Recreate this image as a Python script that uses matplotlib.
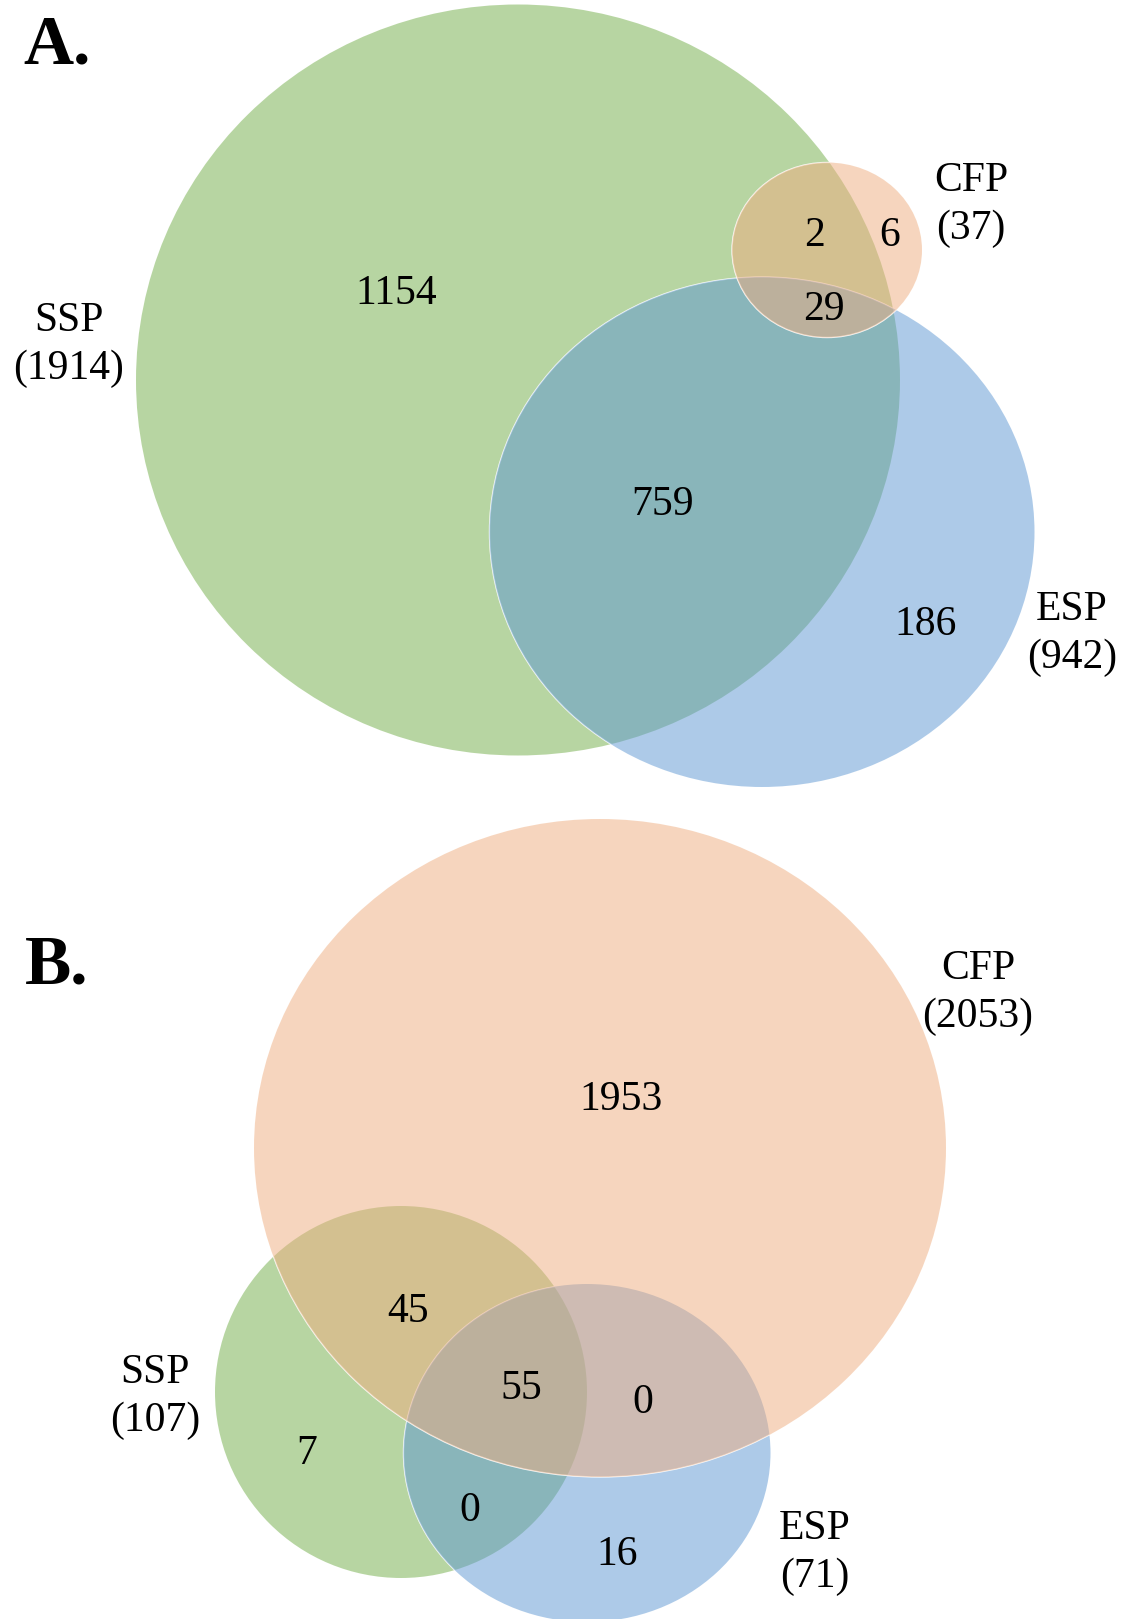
import matplotlib
matplotlib.use("Agg")
import matplotlib.pyplot as plt
from matplotlib.patches import Ellipse

# ---------------- data ----------------
set_names = ["SSP", "ESP", "CFP"]
colors = ["#71ad47", "#5d97d3", "#efad7f"]

# Panel A
a_totals = [1914, 942, 37]
a_region_labels = ["SSP only", "SSP&ESP", "ESP only", "SSP&CFP", "CFP only", "all"]
a_region_counts = [1154, 759, 186, 2, 6, 29]

# Panel B
b_totals = [107, 71, 2053]
b_region_labels = ["CFP only", "SSP&CFP", "all", "ESP&CFP", "SSP only", "SSP&ESP", "ESP only"]
b_region_counts = [1953, 45, 55, 0, 7, 0, 16]

# ---------------- layout (pixel coordinates) ----------------
W, H = 1136, 1619
layout_a = {  # center x, center y, width, height
    "SSP": (518, 380, 764, 751),
    "ESP": (762, 532, 545, 510),
    "CFP": (827, 250, 190, 175),
}
layout_b = {
    "SSP": (401, 1392, 372, 372),
    "ESP": (587, 1453, 367, 338),
    "CFP": (600, 1148, 692, 658),
}
a_region_pos = [(396, 294), (663, 505), (926, 625), (814, 236), (890, 236), (824, 310)]
b_region_pos = [(621, 1100), (408, 1312), (521, 1389), (643, 1403), (307, 1454), (470, 1511), (617, 1555)]
a_label_pos = {"SSP": (69, 345), "ESP": (1072, 634), "CFP": (971, 205)}
b_label_pos = {"SSP": (155, 1397), "ESP": (815, 1553), "CFP": (978, 993)}
edge_on = {"SSP": False, "ESP": True, "CFP": True}

FONT = "Liberation Serif"
FS = 30

fig = plt.figure(figsize=(W / 100, H / 100), dpi=100)
ax = fig.add_axes([0, 0, 1, 1])
ax.set_xlim(0, W)
ax.set_ylim(H, 0)
ax.set_aspect("equal")
ax.axis("off")


def draw_panel(layout, totals, counts, region_pos, label_pos):
    z = 1
    for name, col in zip(set_names, colors):
        cx, cy, w, h = layout[name]
        if edge_on[name]:
            ax.add_patch(Ellipse((cx, cy), w, h, facecolor="none",
                                 edgecolor=(1, 1, 1, 0.9), linewidth=1.0, zorder=z))
        ax.add_patch(Ellipse((cx, cy), w, h, facecolor=col, alpha=0.5,
                             edgecolor="none", zorder=z + 0.5))
        z += 1
    for c, (x, y) in zip(counts, region_pos):
        ax.text(x, y, str(c), ha="center", va="center", fontsize=FS,
                family=FONT, zorder=10)
    for name, t in zip(set_names, totals):
        x, y = label_pos[name]
        ax.text(x, y, f"{name}\n({t})", ha="center", va="center", fontsize=FS,
                family=FONT, linespacing=1.33, zorder=10)


draw_panel(layout_a, a_totals, a_region_counts, a_region_pos, a_label_pos)
draw_panel(layout_b, b_totals, b_region_counts, b_region_pos, b_label_pos)

ax.text(57, 47, "A.", ha="center", va="center", fontsize=50, fontweight="bold", family=FONT)
ax.text(57, 966, "B.", ha="center", va="center", fontsize=50, fontweight="bold", family=FONT)

fig.savefig("out.png", dpi=100)
